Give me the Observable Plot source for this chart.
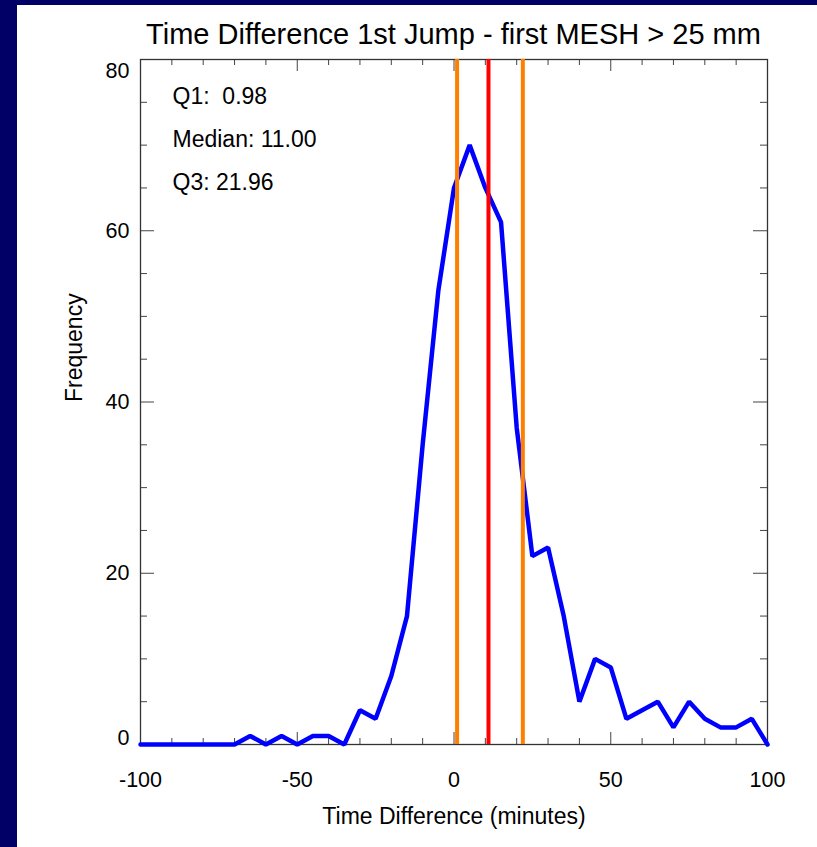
<!DOCTYPE html>
<html><head><meta charset="utf-8">
<script src="https://cdn.jsdelivr.net/npm/d3@7"></script>
<script src="https://cdn.jsdelivr.net/npm/@observablehq/plot@0.6"></script>
<style>
html,body{margin:0;padding:0;background:#000066;width:817px;height:847px;overflow:hidden}
#panel{position:absolute;left:17px;top:5px;width:800px;height:842px;background:#fff;font-family:"Liberation Sans",Arial,sans-serif}
#title{position:absolute;left:123px;width:627px;top:13px;text-align:center;font-size:29px;line-height:33px;color:#000;white-space:nowrap}
#chart{position:absolute;left:0;top:0}
</style></head><body>
<div id="panel"><div id="chart"></div><div id="title">Time Difference 1st Jump - first MESH &gt; 25 mm</div></div>
<script>
const timeDiff = [-100,-95,-90,-85,-80,-75,-70,-65,-60,-55,-50,-45,-40,-35,-30,-25,-20,-15,-10,-5,0,5,10,15,20,25,30,35,40,45,50,55,60,65,70,75,80,85,90,95,100];
const frequency = [0,0,0,0,0,0,0,1,0,1,0,1,1,0,4,3,8,15,35,53,65,70,65,61,37,22,23,15,5,10,9,3,4,5,2,5,3,2,2,3,0];
const statNames = ["Q1:\u00a0 ", "Median: ", "Q3: "];
const statValues = [0.98, 11.00, 21.96];
const xTicks = [-100,-50,0,50,100];
const xMinorTicks = [-90,-80,-70,-60,-40,-30,-20,-10,10,20,30,40,60,70,80,90];
const yTicks = [0,20,40,60,80];
const yMinorTicks = [5,10,15,25,30,35,45,50,55,65,70,75];
const title = "Time Difference 1st Jump - first MESH > 25 mm";
const xLabel = "Time Difference (minutes)";
const yLabel = "Frequency";

const W = 800, H = 842, mL = 123, mR = 50, mT = 54, mB = 103;
const pw = W - mL - mR, ph = H - mT - mB;
const data = timeDiff.map((t, i) => ({t, f: frequency[i]}));
const statText = statNames.map((n, i) => n + statValues[i].toFixed(2)).join("\n");
const tickColor = "#444";
const font = "Liberation Sans, Arial, sans-serif";
const fmt = d => `${d}`;
const tickFont = 21.5, labelFont = 23;

const chart = Plot.plot({
  width: W, height: H,
  marginLeft: mL, marginRight: mR, marginTop: mT, marginBottom: mB,
  style: {fontFamily: font, fontSize: "21px", color: "#000", background: "transparent"},
  x: {domain: [-100, 100], axis: null},
  y: {domain: [0, 80], axis: null},
  marks: [
    Plot.tickX(xMinorTicks, {x: d => d, stroke: tickColor, insetTop: ph - 6}),
    Plot.tickX(xMinorTicks, {x: d => d, stroke: tickColor, insetBottom: ph - 6}),
    Plot.tickX(xTicks, {x: d => d, stroke: tickColor, insetTop: ph - 12}),
    Plot.tickX(xTicks, {x: d => d, stroke: tickColor, insetBottom: ph - 12}),
    Plot.tickY(yMinorTicks, {y: d => d, stroke: tickColor, insetRight: pw - 7}),
    Plot.tickY(yMinorTicks, {y: d => d, stroke: tickColor, insetLeft: pw - 7}),
    Plot.tickY(yTicks, {y: d => d, stroke: tickColor, insetRight: pw - 14}),
    Plot.tickY(yTicks, {y: d => d, stroke: tickColor, insetLeft: pw - 14}),
    Plot.frame({stroke: "#333", strokeWidth: 1.3}),
    Plot.axisX(xTicks, {anchor: "bottom", tickSize: 0, tickPadding: 27, fontSize: tickFont, label: null, tickFormat: fmt}),
    Plot.axisY(yTicks.slice(1, -1), {anchor: "left", tickSize: 0, tickPadding: 11, fontSize: tickFont, label: null, tickFormat: fmt}),
    Plot.axisY(yTicks.slice(0, 1), {anchor: "left", tickSize: 0, tickPadding: 11, fontSize: tickFont, label: null, tickFormat: fmt, dy: -6}),
    Plot.axisY(yTicks.slice(-1), {anchor: "left", tickSize: 0, tickPadding: 11, fontSize: tickFont, label: null, tickFormat: fmt, dy: 12}),
    Plot.text([xLabel], {frameAnchor: "bottom", text: d => d, dy: 72, fontSize: labelFont, lineAnchor: "middle"}),
    Plot.text([yLabel], {frameAnchor: "left", text: d => d, dx: -66, rotate: -90, fontSize: labelFont, lineAnchor: "middle"}),
    Plot.line(data, {x: "t", y: "f", stroke: "#0000ff", strokeWidth: 4.5, strokeLinejoin: "miter"}),
    Plot.ruleX([statValues[0], statValues[2]], {x: d => d, stroke: "#ff8000", strokeWidth: 4}),
    Plot.ruleX([statValues[1]], {x: d => d, stroke: "#ff0000", strokeWidth: 4}),
    Plot.text([statText], {frameAnchor: "top-left", text: d => d, dx: 32, dy: 14, fontSize: labelFont, textAnchor: "start", lineAnchor: "top", lineHeight: 1.87})
  ]
});
document.getElementById("chart").appendChild(chart);
</script>
</body></html>
